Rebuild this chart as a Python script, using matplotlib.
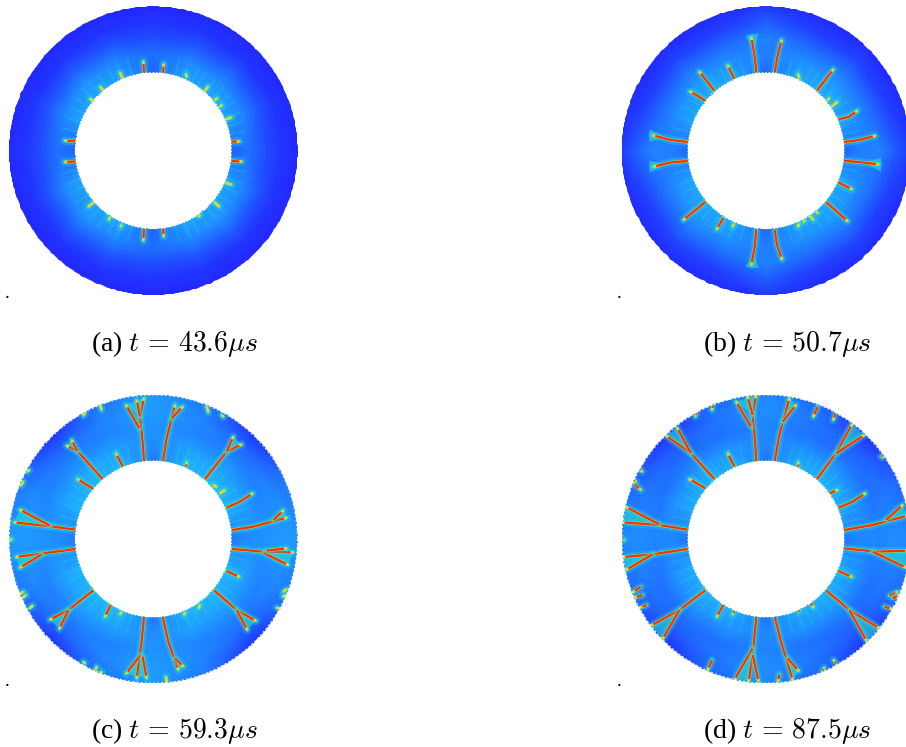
import matplotlib
matplotlib.use('Agg')
import matplotlib.pyplot as plt
import numpy as np
from matplotlib.colors import LinearSegmentedColormap
from matplotlib.patches import PathPatch
from matplotlib.path import Path

plt.rcParams['font.family'] = 'Liberation Serif'
plt.rcParams['mathtext.fontset'] = 'cm'

# crack coordinates are read in 3x crop pixels of each panel
labels = ['(a) $t\\,=\\,43.6\\mu s$', '(b) $t\\,=\\,50.7\\mu s$',
          '(c) $t\\,=\\,59.3\\mu s$', '(d) $t\\,=\\,87.5\\mu s$']

# field: rows go inner to outer radius, columns every 22.5 deg counter clockwise from +x
field_a = [[.12, .29, .30, .29, .12, .30, .30, .30, .12, .30, .30, .30, .12, .30, .30, .30],
           [.15, .21, .22, .21, .15, .21, .23, .21, .15, .21, .23, .21, .15, .21, .23, .21],
           [.08, .10, .11, .10, .08, .10, .11, .10, .08, .10, .11, .10, .08, .10, .11, .10],
           [.04, .04, .04, .04, .04, .04, .04, .04, .04, .04, .04, .04, .04, .04, .04, .04],
           [.01, .01, .01, .01, .01, .01, .01, .01, .01, .01, .01, .01, .01, .01, .01, .01]]
field_b = [[.12, .30, .30, .30, .12, .30, .30, .30, .12, .30, .30, .30, .12, .30, .30, .30],
           [.19, .23, .25, .23, .19, .23, .25, .23, .19, .23, .25, .23, .19, .23, .25, .23],
           [.20, .14, .16, .14, .20, .14, .16, .14, .20, .14, .16, .14, .20, .14, .16, .14],
           [.12, .06, .07, .06, .12, .06, .07, .06, .13, .06, .07, .06, .12, .06, .07, .06],
           [.02, .01, .01, .01, .03, .01, .01, .01, .03, .01, .01, .01, .03, .01, .01, .01]]
field_c = [[.15, .33, .34, .33, .15, .33, .34, .33, .15, .33, .34, .33, .15, .33, .34, .33],
           [.22, .27, .28, .27, .22, .27, .28, .27, .22, .27, .28, .27, .22, .27, .28, .27],
           [.24, .20, .20, .20, .24, .20, .20, .20, .24, .20, .20, .20, .24, .20, .20, .20],
           [.26, .21, .13, .21, .26, .21, .13, .21, .26, .21, .13, .21, .26, .21, .13, .21],
           [.25, .16, .01, .16, .25, .16, .01, .16, .25, .16, .01, .16, .25, .16, .01, .16]]
field_d = [[.15, .32, .33, .32, .15, .32, .33, .32, .15, .32, .33, .32, .15, .32, .33, .32],
           [.21, .24, .25, .24, .21, .24, .25, .24, .21, .24, .25, .24, .21, .24, .25, .24],
           [.21, .16, .16, .16, .21, .16, .16, .16, .21, .16, .16, .16, .21, .16, .16, .16],
           [.23, .17, .11, .17, .23, .17, .11, .17, .23, .17, .11, .17, .23, .17, .11, .17],
           [.21, .13, .01, .13, .21, .13, .01, .13, .21, .13, .01, .13, .21, .13, .01, .13]]

cracks_a = [[(432, 220), (430, 184)], [(489, 220), (491, 192)], [(230, 424), (194, 422)],
            [(230, 484), (194, 486)], [(694, 425), (718, 424)], [(694, 483), (726, 485)],
            [(432, 686), (430, 722)], [(489, 686), (491, 710)]]
shorts_a = [[(368, 236), (360, 218)], [(310, 272), (300, 260)], [(280, 304), (270, 296)],
            [(615, 272), (624, 260)], [(645, 300), (652, 294)], [(660, 320), (666, 315)],
            [(678, 358), (694, 352)], [(678, 548), (694, 554)], [(643, 606), (658, 620)],
            [(282, 606), (265, 620)], [(330, 652), (326, 660)], [(365, 675), (362, 680)],
            [(595, 650), (600, 645)], [(560, 232), (558, 222)]]

cracks_b = [[(451, 218), (446, 170), (436, 112)], [(506, 218), (515, 165), (527, 120)],
            [(325, 272), (280, 215)], [(385, 236), (365, 196)], [(298, 302), (252, 274)],
            [(633, 272), (682, 208)], [(698, 358), (730, 350), (754, 332)],
            [(245, 426), (195, 420), (140, 406)], [(245, 483), (195, 487), (143, 500)],
            [(714, 426), (760, 420), (808, 407)], [(714, 482), (765, 487), (818, 493)],
            [(697, 547), (738, 568)], [(660, 606), (725, 664)], [(298, 606), (232, 660)],
            [(352, 654), (332, 688)], [(451, 688), (446, 740), (436, 795)],
            [(506, 688), (513, 735), (528, 778)]]
shorts_b = [[(580, 236), (576, 222)], [(664, 302), (670, 294)], [(676, 320), (694, 306)],
            [(612, 648), (622, 660)], [(580, 672), (575, 680)], [(383, 672), (380, 680)],
            [(597, 660), (592, 666)], [(630, 635), (636, 640)]]
fans_b = [[(446, 150), (418, 108), (458, 100)], [(445, 760), (418, 800), (458, 805)],
          [(180, 412), (130, 388), (130, 425)], [(180, 493), (130, 482), (130, 518)],
          [(775, 488), (825, 472), (825, 515)]]

cracks_c = [[(432, 228), (428, 170), (420, 95), (432, 40)], [(420, 95), (410, 45)],
            [(418, 130), (378, 60)], [(489, 228), (500, 160), (525, 60)], [(515, 100), (548, 65)],
            [(368, 244), (348, 205)], [(308, 282), (232, 198), (200, 182)], [(232, 198), (215, 165)],
            [(280, 312), (232, 282)], [(615, 282), (680, 200), (725, 178)], [(680, 200), (700, 155)],
            [(680, 368), (720, 350), (758, 325)], [(558, 245), (560, 232)],
            [(228, 434), (150, 424), (42, 412)], [(150, 422), (60, 374)],
            [(228, 492), (130, 505), (48, 516)], [(125, 508), (60, 548)],
            [(696, 435), (760, 425), (860, 398)], [(820, 405), (850, 376)],
            [(696, 492), (790, 500), (880, 502)], [(790, 503), (865, 540)], [(800, 497), (860, 490)],
            [(680, 558), (718, 576)], [(642, 616), (710, 675), (768, 708)], [(710, 675), (742, 735)],
            [(280, 616), (205, 675), (150, 704)], [(205, 675), (178, 732)], [(332, 660), (315, 696)],
            [(432, 696), (425, 770), (410, 880)], [(422, 810), (378, 866)], [(428, 815), (440, 880)],
            [(488, 696), (505, 770), (535, 855)], [(525, 820), (550, 845)]]
shorts_c = [[(498, 875), (500, 892)], [(620, 65), (625, 82)], [(665, 90), (670, 96)],
            [(300, 60), (305, 75)], [(255, 85), (250, 92)], [(88, 255), (82, 260)],
            [(70, 290), (62, 302)], [(78, 630), (65, 640)], [(70, 620), (62, 625)],
            [(98, 662), (88, 670)], [(290, 845), (286, 855)], [(305, 860), (300, 865)],
            [(850, 620), (860, 612)], [(848, 635), (860, 630)], [(830, 668), (840, 672)],
            [(35, 462), (30, 465)], [(255, 835), (250, 830)], [(365, 680), (360, 688)],
            [(600, 660), (595, 670)], [(555, 682), (552, 690)], [(650, 306), (640, 300)],
            [(660, 325), (675, 315)]]
fans_c = [[(420, 95), (378, 60), (432, 40)], [(515, 100), (525, 60), (548, 65)],
          [(232, 198), (200, 182), (215, 165)], [(680, 200), (725, 178), (700, 155)],
          [(150, 423), (60, 374), (42, 412)], [(125, 507), (48, 516), (60, 548)],
          [(820, 405), (860, 398), (850, 376)], [(790, 501), (880, 502), (865, 540)],
          [(710, 675), (768, 708), (742, 735)], [(205, 675), (150, 704), (178, 732)],
          [(422, 810), (378, 866), (440, 880)], [(525, 820), (535, 855), (550, 845)]]

cracks_d = [[(451, 228), (445, 140), (440, 90), (450, 32)], [(440, 90), (425, 35)],
            [(435, 125), (390, 50)], [(506, 228), (520, 150), (550, 40)], [(530, 110), (570, 60)],
            [(385, 244), (365, 205)], [(325, 282), (255, 205), (180, 152)], [(255, 205), (213, 128)],
            [(298, 310), (250, 282)], [(633, 282), (690, 205), (738, 118)], [(690, 205), (775, 150)],
            [(698, 368), (740, 350), (778, 325)], [(245, 434), (160, 420), (48, 412)],
            [(160, 418), (60, 366)], [(245, 492), (140, 508), (50, 516)], [(140, 508), (60, 555)],
            [(714, 435), (800, 420), (905, 392)], [(840, 405), (890, 360)],
            [(714, 490), (810, 500), (905, 497)], [(800, 500), (900, 548)], [(697, 558), (738, 576)],
            [(660, 616), (730, 675), (820, 730)], [(730, 675), (782, 768)],
            [(298, 616), (220, 675), (135, 722)], [(220, 675), (170, 762)], [(352, 660), (332, 696)],
            [(451, 696), (440, 810), (428, 890)], [(440, 790), (385, 885)], [(440, 810), (458, 890)],
            [(506, 696), (525, 770), (560, 885)], [(545, 820), (578, 858)]]
shorts_d = [[(520, 868), (516, 890)], [(318, 825), (305, 855)], [(635, 65), (622, 95)],
            [(688, 85), (682, 105)], [(320, 62), (318, 75)], [(272, 85), (268, 95)],
            [(100, 250), (108, 260)], [(85, 298), (105, 315)], [(82, 285), (90, 290)],
            [(105, 605), (80, 622)], [(110, 630), (85, 638)], [(122, 660), (102, 668)],
            [(850, 632), (875, 620)], [(860, 640), (880, 630)], [(835, 665), (858, 672)],
            [(578, 245), (576, 232)], [(670, 325), (695, 315)], [(650, 855), (655, 848)],
            [(690, 835), (683, 825)], [(615, 655), (622, 668)], [(580, 680), (576, 672)],
            [(825, 215), (830, 218)], [(385, 680), (380, 688)], [(50, 462), (55, 465)]]
fans_d = [[(440, 90), (390, 50), (450, 32)], [(530, 110), (550, 40), (570, 60)],
          [(255, 205), (180, 152), (213, 128)], [(690, 205), (738, 118), (775, 150)],
          [(160, 419), (60, 366), (48, 412)], [(140, 508), (50, 516), (60, 555)],
          [(840, 405), (905, 392), (890, 360)], [(800, 500), (905, 497), (900, 548)],
          [(730, 675), (820, 730), (782, 768)], [(220, 675), (135, 722), (170, 762)],
          [(440, 790), (385, 885), (428, 890)], [(545, 820), (560, 885), (578, 858)]]

# faint streaks along the bore, angle in degrees
streak_deg = [12, 18, 24, 31, 36, 42, 49, 56, 61, 68, 74, 106, 113, 119, 126, 133, 139, 146, 152,
              159, 166, 194, 201, 207, 214, 221, 227, 234, 241, 247, 254, 286, 293, 299, 306, 313,
              319, 326, 333, 340, 347]
streak_len = [48, 48, 56, 56]

fields = [field_a, field_b, field_c, field_d]
cracks = [cracks_a, cracks_b, cracks_c, cracks_d]
shorts = [shorts_a, shorts_b, shorts_c, shorts_d]
fans = [[], fans_b, fans_c, fans_d]
short_core = [False, False, False, True]

# panel layout, in image pixels
crop_x = [0, 606, 0, 606]
crop_y = [0, 0, 385, 385]
centre_x = [460, 480, 460, 480]
centre_y = [452, 452, 462, 462]
label_x = [91, 703, 91, 703]
label_y = [351, 351, 738, 738]
dot_x = [5, 617, 5, 617]
dot_y = [298, 298, 686, 686]
r_in = 234
r_out = 433
radial_nodes = [215, 290, 340, 385, 450]

cmap = LinearSegmentedColormap.from_list('field', ['#2222ff', '#1f6cff', '#1fa8ff', '#22e0ee',
                                                   '#30f0a0', '#d8f030', '#ff9010', '#ee2a10'])

W, H = 906, 747
fig = plt.figure(figsize=(W / 100, H / 100), dpi=100)


def draw_crack(ax, pts, core=True):
    xy = np.array(pts, dtype=float)
    ax.plot(xy[:, 0], xy[:, 1], color='#26d8f0', lw=6, alpha=0.3, solid_capstyle='round')
    ax.plot(xy[:, 0], xy[:, 1], color='#40e890', lw=2.4, solid_capstyle='round')
    ax.plot(xy[:, 0], xy[:, 1], color='#f0d030', lw=1.9, solid_capstyle='butt')
    if core:
        # red core stops a little short of the tip
        red = xy.copy()
        step = red[-1] - red[-2]
        red[-1] = red[-1] - step / np.hypot(*step) * min(8, np.hypot(*step) * 0.5)
        ax.plot(red[:, 0], red[:, 1], color='#f03010', lw=1.6, solid_capstyle='butt')


for i in range(4):
    ax = fig.add_axes([crop_x[i] / W, 1 - (crop_y[i] + 310) / H, 300 / W, 310 / H])
    ax.set_xlim(0, 900)
    ax.set_ylim(930, 0)
    ax.axis('off')
    ax.patch.set_alpha(0)

    # mesh is coarse and a bit oversized, the ring clip gives the round edges
    theta = np.deg2rad(np.arange(0, 382.5, 22.5))
    rr = np.array(radial_nodes, dtype=float)
    z = np.array(fields[i])
    z = np.hstack([z, z[:, :1]])
    X = centre_x[i] + np.outer(rr, np.cos(theta))
    Y = centre_y[i] - np.outer(rr, np.sin(theta))
    mesh = ax.pcolormesh(X, Y, z, cmap=cmap, vmin=0, vmax=1, shading='gouraud')

    t = np.linspace(0, 2 * np.pi, 361)
    ring_x = np.r_[centre_x[i] + r_out * np.cos(t), centre_x[i] + r_in * np.cos(t[::-1])]
    ring_y = np.r_[centre_y[i] + r_out * np.sin(t), centre_y[i] + r_in * np.sin(t[::-1])]
    codes = np.full(len(ring_x), Path.LINETO)
    codes[0] = Path.MOVETO
    codes[361] = Path.MOVETO
    ring = PathPatch(Path(np.c_[ring_x, ring_y], codes), transform=ax.transData, fc='none', ec='none')
    ax.add_patch(ring)
    mesh.set_clip_path(ring)

    for deg in streak_deg:
        a = np.deg2rad(deg)
        ax.plot([centre_x[i] + r_in * np.cos(a), centre_x[i] + (r_in + streak_len[i]) * np.cos(a)],
                [centre_y[i] - r_in * np.sin(a), centre_y[i] - (r_in + streak_len[i]) * np.sin(a)],
                color='#22e0ee', lw=1.5, alpha=0.2, solid_capstyle='round')
    for tri in fans[i]:
        ax.fill(*zip(*tri), color='#22e8c8', alpha=0.55, lw=0)
    for pts in shorts[i]:
        draw_crack(ax, pts, core=short_core[i])
    for pts in cracks[i]:
        draw_crack(ax, pts)

    # the coarse source grid leaves the edges jagged
    ax.plot(centre_x[i] + r_in * np.cos(t), centre_y[i] + r_in * np.sin(t), color='white', lw=0.8,
            ls=(0, (1.5, 1.5)))
    if i >= 2:
        ax.plot(centre_x[i] + r_out * np.cos(t), centre_y[i] + r_out * np.sin(t), color='white', lw=1.0,
                ls=(0, (1.5, 1.5)))
    for art in ax.lines + ax.patches:
        if art is not ring:
            art.set_clip_path(ring)

    fig.text(label_x[i] / W, 1 - label_y[i] / H, labels[i], fontsize=20, ha='left', va='baseline')
    fig.text(dot_x[i] / W, 1 - dot_y[i] / H, '.', fontsize=14, ha='left', va='baseline')

fig.savefig('out.png', dpi=100)
